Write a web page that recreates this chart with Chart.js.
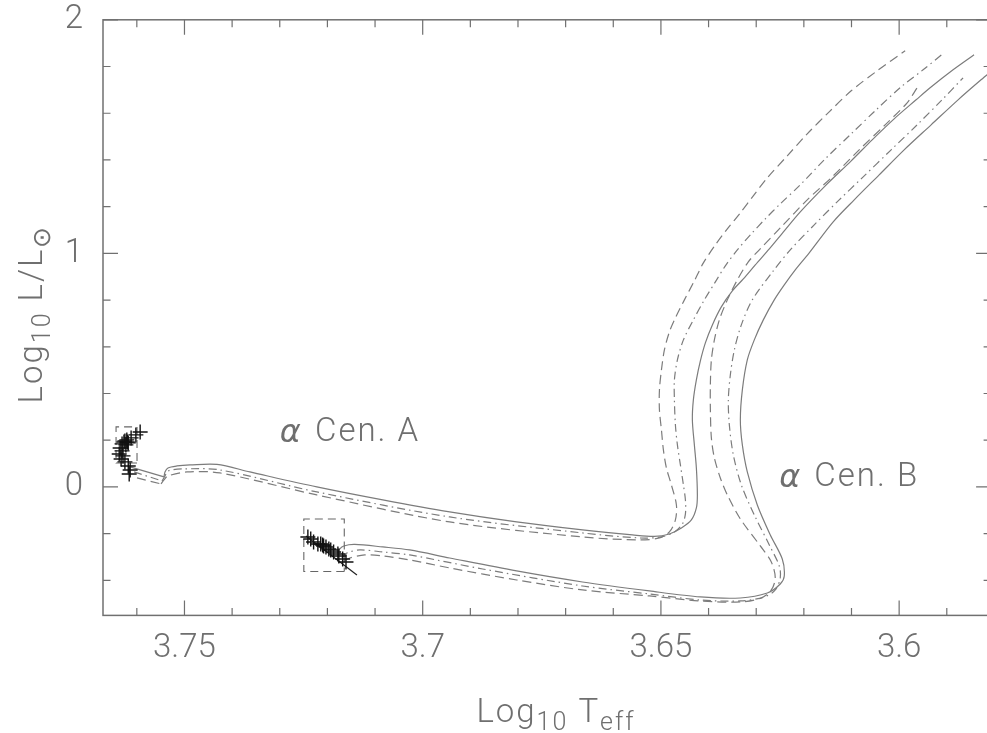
<!DOCTYPE html>
<html>
<head>
<meta charset="utf-8">
<title>alpha Cen HR diagram</title>
<script src="https://cdn.jsdelivr.net/npm/chart.js@4/dist/chart.umd.min.js"></script>
<style>
  html, body { margin: 0; padding: 0; overflow: hidden; background: #fff; }
  #wrap { width: 1000px; height: 733px; }
</style>
</head>
<body>
<div id="wrap"><canvas id="hr" width="1000" height="733"></canvas></div>
<script>
// Axis ranges and labelled ticks
const xRange = [3.5807, 3.7671];          // log Teff (axis reversed)
const yRange = [-0.55, 2.0];              // log L/Lsun
const xMajorTicks = [3.75, 3.70, 3.65, 3.60];
const xMajorLabels = ['3.75', '3.7', '3.65', '3.6'];
const yMajorTicks = [0, 1, 2];
const yMajorLabels = ['0', '1', '2'];

// Observations (log Teff, log L)
const obsA = [
  [3.7593, 0.2355], [3.7602, 0.2227], [3.7612, 0.2099], [3.7621, 0.2013], [3.7620, 0.1927],
  [3.7627, 0.1927], [3.7631, 0.1842], [3.7623, 0.1799], [3.7625, 0.1970], [3.7618, 0.1885],
  [3.7635, 0.1670], [3.7631, 0.1542], [3.7637, 0.1413], [3.7629, 0.1328], [3.7633, 0.1199],
  [3.7625, 0.1071], [3.7618, 0.0899], [3.7614, 0.0728], [3.7616, 0.0557]
];
const obsB = [
  [3.7241, -0.2141], [3.7235, -0.2227], [3.7229, -0.2355], [3.7220, -0.2441], [3.7214, -0.2441],
  [3.7210, -0.2484], [3.7208, -0.2527], [3.7203, -0.2570], [3.7197, -0.2655], [3.7193, -0.2698],
  [3.7187, -0.2784], [3.7178, -0.2869], [3.7176, -0.2955], [3.7168, -0.3084], [3.7161, -0.3212]
];
const fitLineB = [[3.7245, -0.2099], [3.7138, -0.3769]];

// Error boxes: [Tmin, Tmax, Lmin, Lmax]
const boxA = [3.75996, 3.76436, 0.1028, 0.2570];
const boxB = [3.71646, 3.72495, -0.3619, -0.1370];

// Approach segments onto the ZAMS, alpha Cen A
const preASolid   = [[3.76142, 0.0857], [3.75430, 0.0428]];
const preADashDot = [[3.76058, 0.0642], [3.75471, 0.0257]];
const preADashed  = [[3.75996, 0.0385], [3.75492, 0.0128]];

// Evolutionary tracks, alpha Cen A
const trackASolid = [
  [3.75430, 0.0428], [3.75409, 0.0642], [3.75346, 0.0814], [3.75157, 0.0899], [3.74884, 0.0942],
  [3.74318, 0.0964], [3.73627, 0.0642], [3.72222, 0.0000], [3.70838, -0.0557], [3.69434, -0.1071],
  [3.68029, -0.1499], [3.66646, -0.1842], [3.65597, -0.2056], [3.65136, -0.2120], [3.64822, -0.2013],
  [3.64570, -0.1756], [3.64361, -0.1413], [3.64256, -0.0899], [3.64235, -0.0343], [3.64256, 0.0814],
  [3.64298, 0.1799], [3.64340, 0.2869], [3.64319, 0.3726], [3.64256, 0.4582], [3.64172, 0.5396],
  [3.64067, 0.6167], [3.63920, 0.6938], [3.63732, 0.7709], [3.63501, 0.8394], [3.63270, 0.8908],
  [3.63019, 0.9508], [3.62725, 1.0193], [3.62411, 1.0964], [3.62075, 1.1777], [3.61551, 1.2891],
  [3.61006, 1.3962], [3.60566, 1.4861], [3.60105, 1.5760], [3.59644, 1.6574], [3.59350, 1.7088],
  [3.58868, 1.7859], [3.58428, 1.8501]
];
const trackADashDot = [
  [3.75471, 0.0257], [3.75409, 0.0471], [3.75346, 0.0685], [3.75031, 0.0771], [3.74256, 0.0728],
  [3.72222, -0.0214], [3.69434, -0.1285], [3.66646, -0.1970], [3.65451, -0.2184], [3.64989, -0.2141],
  [3.64717, -0.1927], [3.64549, -0.1585], [3.64486, -0.1156], [3.64486, -0.0557], [3.64528, 0.0086],
  [3.64591, 0.0942], [3.64654, 0.1799], [3.64696, 0.2655], [3.64717, 0.3726], [3.64717, 0.4582],
  [3.64654, 0.5439], [3.64528, 0.6296], [3.64319, 0.7152], [3.64088, 0.8009], [3.63857, 0.8780],
  [3.63648, 0.9465], [3.63396, 1.0150], [3.63103, 1.0835], [3.62809, 1.1478], [3.62495, 1.2120],
  [3.62075, 1.2934], [3.61551, 1.4047], [3.61006, 1.5118], [3.60482, 1.6146], [3.59958, 1.7131],
  [3.59497, 1.7859], [3.59057, 1.8587]
];
const trackADashed = [
  [3.75492, 0.0128], [3.75430, 0.0300], [3.75346, 0.0471], [3.74947, 0.0642], [3.74256, 0.0600],
  [3.72222, -0.0343], [3.69434, -0.1499], [3.66646, -0.2141], [3.65451, -0.2270], [3.65031, -0.2184],
  [3.64822, -0.1927], [3.64696, -0.1413], [3.64675, -0.0771], [3.64780, 0.0086], [3.64885, 0.0814],
  [3.64948, 0.1585], [3.64989, 0.2441], [3.65031, 0.3298], [3.65031, 0.4154], [3.64989, 0.5011],
  [3.64927, 0.5867], [3.64822, 0.6638], [3.64696, 0.7238], [3.64507, 0.8009], [3.64298, 0.8822],
  [3.64109, 0.9593], [3.63857, 1.0364], [3.63606, 1.1049], [3.63333, 1.1735], [3.63061, 1.2463],
  [3.62767, 1.3234], [3.62348, 1.4176], [3.61929, 1.5118], [3.61468, 1.6060], [3.61006, 1.6960],
  [3.60461, 1.7816], [3.59874, 1.8673]
];

// Evolutionary tracks, alpha Cen B
const trackBSolid = [
  [3.71782, -0.2827], [3.71740, -0.2655], [3.71656, -0.2527], [3.71425, -0.2463], [3.70838, -0.2570],
  [3.70272, -0.2698], [3.69434, -0.3041], [3.68029, -0.3597], [3.66646, -0.4069], [3.65241, -0.4454],
  [3.64172, -0.4711], [3.63333, -0.4754], [3.62767, -0.4540], [3.62495, -0.4154], [3.62411, -0.3812],
  [3.62453, -0.3084], [3.62704, -0.2056], [3.62977, -0.0771], [3.63187, 0.0642], [3.63291, 0.1799],
  [3.63333, 0.2869], [3.63291, 0.4154], [3.63187, 0.5439], [3.63040, 0.6296], [3.62851, 0.7152],
  [3.62621, 0.8009], [3.62411, 0.8651], [3.62180, 0.9293], [3.61887, 1.0022], [3.61384, 1.1349],
  [3.60943, 1.2291], [3.60419, 1.3362], [3.59895, 1.4433], [3.59329, 1.5503], [3.58763, 1.6574],
  [3.58281, 1.7431], [3.58029, 1.7859]
];
const trackBDashDot = [
  [3.71698, -0.3041], [3.71593, -0.2827], [3.71321, -0.2698], [3.70838, -0.2784], [3.70272, -0.2912],
  [3.68742, -0.3512], [3.66646, -0.4240], [3.65241, -0.4582], [3.64172, -0.4839], [3.63333, -0.4882],
  [3.62830, -0.4711], [3.62600, -0.4411], [3.62495, -0.3897], [3.62516, -0.3383], [3.62725, -0.2484],
  [3.63040, -0.1199], [3.63312, 0.0086], [3.63480, 0.1370], [3.63564, 0.2655], [3.63585, 0.3726],
  [3.63543, 0.4797], [3.63459, 0.5867], [3.63312, 0.6938], [3.63082, 0.8009], [3.62642, 0.9251],
  [3.62285, 1.0150], [3.61782, 1.1221], [3.61258, 1.2291], [3.60776, 1.3234], [3.60168, 1.4433],
  [3.59623, 1.5503], [3.59099, 1.6574], [3.58658, 1.7516]
];
const trackBDashed = [
  [3.71656, -0.3169], [3.71530, -0.3041], [3.71216, -0.2912], [3.70838, -0.2955], [3.70272, -0.3126],
  [3.69434, -0.3469], [3.68029, -0.3983], [3.66646, -0.4411], [3.65241, -0.4668], [3.64172, -0.4882],
  [3.63333, -0.4925], [3.62893, -0.4754], [3.62683, -0.4411], [3.62600, -0.3897], [3.62683, -0.3212],
  [3.62914, -0.2527], [3.63333, -0.1370], [3.63606, -0.0343], [3.63753, 0.0385], [3.63878, 0.1242],
  [3.63941, 0.2099], [3.63962, 0.3298], [3.63962, 0.4411], [3.63941, 0.5439], [3.63878, 0.6296],
  [3.63774, 0.7152], [3.63606, 0.8009], [3.63396, 0.8865], [3.63166, 0.9636], [3.62935, 1.0150],
  [3.62474, 1.1135], [3.61929, 1.2291], [3.61405, 1.3276], [3.60839, 1.4433], [3.60294, 1.5503],
  [3.59832, 1.6446], [3.59623, 1.7088]
];

// Star labels placed in data coordinates
const starNames = ['Cen. A', 'Cen. B'];
const starLabelT = [3.72998, 3.62516];
const starLabelL = [0.2313, 0.0385];

const FONT = 'Roboto';
const INK = '#6f6f6f';
const LINE = '#7c7c7c';
const DASH = [9, 5];
const DASHDOT = [8, 4, 1.5, 4];

const pts = arr => arr.map(([x, y]) => ({ x, y }));
const boxPts = b => pts([[b[0], b[2]], [b[1], b[2]], [b[1], b[3]], [b[0], b[3]], [b[0], b[2]]]);

function line(data, dash, tension) {
  return {
    data: pts(data), showLine: true, pointRadius: 0, borderColor: LINE,
    borderWidth: 1.2, borderDash: dash || [], tension: tension === undefined ? 0.3 : tension,
    fill: false
  };
}

const crossStyle = { pointStyle: 'cross', pointRadius: 7.5, borderColor: '#111', borderWidth: 1.4, showLine: false };

const datasets = [
  Object.assign({ data: pts(obsA) }, crossStyle),
  Object.assign({ data: pts(obsB) }, crossStyle),
  { data: pts(fitLineB), showLine: true, pointRadius: 0, borderColor: '#222', borderWidth: 1.2, tension: 0 },
  { data: boxPts(boxA), showLine: true, pointRadius: 0, borderColor: '#666', borderWidth: 1.1, borderDash: [8, 5], tension: 0 },
  { data: boxPts(boxB), showLine: true, pointRadius: 0, borderColor: '#666', borderWidth: 1.1, borderDash: [8, 5], tension: 0 },
  line(preASolid, [], 0), line(preADashDot, DASHDOT, 0), line(preADashed, DASH, 0),
  line(trackASolid), line(trackADashDot, DASHDOT), line(trackADashed, DASH),
  line(trackBSolid), line(trackBDashDot, DASHDOT), line(trackBDashed, DASH)
];

const isMajor = (v, list) => list.some(m => Math.abs(m - v) < 1e-6);
const labelFor = (v, list, labels) => {
  const i = list.findIndex(m => Math.abs(m - v) < 1e-6);
  return i >= 0 ? labels[i] : '';
};

// Draws a run of text pieces (with sub-scripts) starting at (x, y) on the baseline
function drawPieces(ctx, pieces, x, y) {
  let cx = x;
  for (const p of pieces) {
    ctx.font = `300 ${p.size}px ${FONT}`;
    ctx.fillText(p.t, cx, y + (p.dy || 0));
    cx += ctx.measureText(p.t).width;
  }
}
function piecesWidth(ctx, pieces) {
  let w = 0;
  for (const p of pieces) { ctx.font = `300 ${p.size}px ${FONT}`; w += ctx.measureText(p.t).width; }
  return w;
}

const framePlugin = {
  id: 'frame',
  afterDatasetsDraw(chart) {
    const { ctx, chartArea: a, scales: { x, y } } = chart;
    ctx.save();
    ctx.strokeStyle = '#707070';
    ctx.lineWidth = 1.5;
    ctx.strokeRect(a.left, a.top, a.right - a.left, a.bottom - a.top);
    ctx.lineWidth = 1.2;
    ctx.beginPath();
    for (const t of x.ticks) {
      const px = x.getPixelForValue(t.value);
      const len = isMajor(t.value, xMajorTicks) ? 15 : 7.5;
      ctx.moveTo(px, a.bottom); ctx.lineTo(px, a.bottom - len);
      ctx.moveTo(px, a.top); ctx.lineTo(px, a.top + len);
    }
    for (const t of y.ticks) {
      const py = y.getPixelForValue(t.value);
      const len = isMajor(t.value, yMajorTicks) ? 15 : 7.5;
      ctx.moveTo(a.left, py); ctx.lineTo(a.left + len, py);
      ctx.moveTo(a.right, py); ctx.lineTo(a.right - len, py);
    }
    ctx.stroke();
    ctx.restore();
  },
  afterDraw(chart) {
    const { ctx, scales: { x, y } } = chart;
    ctx.save();
    ctx.fillStyle = INK;
    ctx.textAlign = 'left';
    ctx.letterSpacing = '2px';

    // star names, each preceded by an italic alpha
    ctx.textBaseline = 'middle';
    starNames.forEach((name, i) => {
      const px = x.getPixelForValue(starLabelT[i]);
      const py = y.getPixelForValue(starLabelL[i]);
      ctx.font = `italic 200 32px "DejaVu Sans"`;
      ctx.fillText('α', px, py + 1);
      const w = ctx.measureText('α').width;
      ctx.font = `300 33px ${FONT}`;
      ctx.fillText(name, px + w + 12, py);
    });
    ctx.textBaseline = 'alphabetic';

    // x axis title: Log10 Teff
    const xt = [
      { t: 'Log', size: 33 }, { t: '10', size: 25, dy: 8 },
      { t: ' T', size: 33 }, { t: 'eff', size: 25, dy: 8 }
    ];
    drawPieces(ctx, xt, 556 - piecesWidth(ctx, xt) / 2, 722);

    // y axis title: Log10 L/Lsun, rotated
    const yt = [
      { t: 'Log', size: 33 }, { t: '10', size: 25, dy: 8 },
      { t: ' L/L', size: 33 }, { t: '⊙', size: 25, dy: 8 }
    ];
    ctx.translate(42, 314);
    ctx.rotate(-Math.PI / 2);
    drawPieces(ctx, yt, -piecesWidth(ctx, yt) / 2, 0);
    ctx.restore();
  }
};

new Chart(document.getElementById('hr'), {
  type: 'scatter',
  data: { datasets },
  options: {
    responsive: false,
    animation: false,
    devicePixelRatio: 1,
    layout: { padding: { top: 0, right: 8, left: 0, bottom: 0 } },
    plugins: { legend: { display: false }, tooltip: { enabled: false } },
    scales: {
      x: {
        type: 'linear', reverse: true, min: xRange[0], max: xRange[1], position: 'bottom',
        grid: { display: false, drawTicks: false }, border: { display: false },
        afterBuildTicks: s => {
          const t = [];
          for (let k = 359; k <= 376; k++) t.push({ value: k / 100 });
          s.ticks = t;
        },
        afterFit: s => { s.height = 117.6; s.paddingLeft = 0; s.paddingRight = 0; },
        ticks: {
          autoSkip: false, maxRotation: 0, padding: 14, color: INK,
          font: { family: FONT, size: 33, weight: 300 },
          callback: v => labelFor(v, xMajorTicks, xMajorLabels)
        }
      },
      y: {
        type: 'linear', min: yRange[0], max: yRange[1], position: 'left',
        grid: { display: false, drawTicks: false }, border: { display: false },
        afterBuildTicks: s => {
          const t = [];
          for (let k = -2; k <= 10; k++) t.push({ value: k / 5 });
          s.ticks = t;
        },
        afterFit: s => { s.width = 103; s.paddingTop = 19.8; s.paddingBottom = 0; },
        ticks: {
          autoSkip: false, padding: 20, color: INK,
          font: { family: FONT, size: 33, weight: 300 },
          callback: v => labelFor(v, yMajorTicks, yMajorLabels)
        }
      }
    }
  },
  plugins: [framePlugin]
});
</script>
</body>
</html>
